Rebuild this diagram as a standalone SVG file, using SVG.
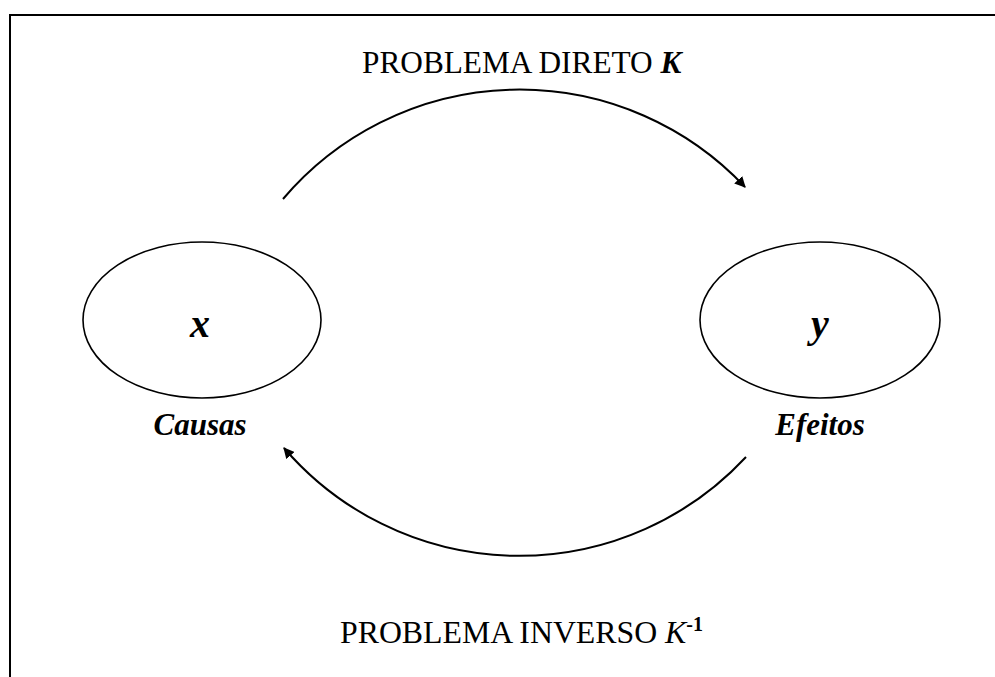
<svg xmlns="http://www.w3.org/2000/svg" width="995" height="677" viewBox="0 0 995 677">
<style>
.t{font-family:"Liberation Serif","Times New Roman",serif;fill:#000}
.bi{font-weight:bold;font-style:italic}
.node{fill:#fff;stroke:#000;stroke-width:1.6}
.conn{fill:none;stroke:#000;stroke-width:2}
</style>
<defs>
<marker id="ah" viewBox="0 0 10 10" refX="9" refY="5" markerWidth="5.5" markerHeight="5.5" orient="auto" markerUnits="strokeWidth">
<path d="M0,0 L10,5 L0,10 z" fill="#000"/>
</marker>
</defs>
<rect x="10" y="15" width="1000" height="700" fill="#fff" stroke="#000" stroke-width="2"/>
<g id="connectors">
<path class="conn" d="M283,199 A310,310 0 0 1 745,187" marker-end="url(#ah)"/>
<path class="conn" d="M746,457 A310,310 0 0 1 284,448" marker-end="url(#ah)"/>
</g>
<g id="node-x">
<ellipse class="node" cx="202" cy="320" rx="119" ry="78"/>
<text class="t bi" x="200" y="337" font-size="40" text-anchor="middle">x</text>
</g>
<g id="node-y">
<ellipse class="node" cx="820" cy="320" rx="120" ry="78"/>
<text class="t bi" x="820" y="337" font-size="40" text-anchor="middle">y</text>
</g>
<g id="label-causas">
<text class="t bi" x="200" y="435" font-size="31" text-anchor="middle">Causas</text>
</g>
<g id="label-efeitos">
<text class="t bi" x="820" y="435" font-size="31" text-anchor="middle">Efeitos</text>
</g>
<g id="label-direto">
<text class="t" x="362" y="73" font-size="31.3">PROBLEMA DIRETO <tspan class="bi">K</tspan></text>
</g>
<g id="label-inverso">
<text class="t" x="340" y="643" font-size="31.8">PROBLEMA INVERSO <tspan font-style="italic">K</tspan><tspan font-size="20" font-weight="bold" dy="-12">-1</tspan></text>
</g>
</svg>
